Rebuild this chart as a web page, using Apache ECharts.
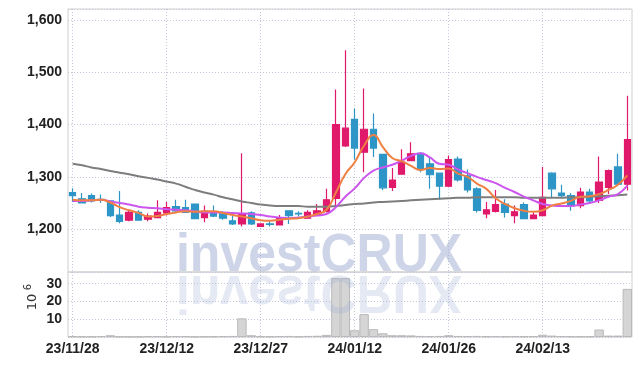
<!DOCTYPE html>
<html><head><meta charset="utf-8">
<script src="https://cdn.jsdelivr.net/npm/echarts@6/dist/echarts.min.js"></script>
<style>html,body{margin:0;padding:0;background:#fff}#c{width:642px;height:366px}</style>
</head><body><div id="c"></div>
<script>
const dates = ['23/11/28','23/11/29','23/11/30','23/12/01','23/12/04','23/12/05','23/12/06','23/12/07','23/12/08','23/12/11',
'23/12/12','23/12/13','23/12/14','23/12/15','23/12/18','23/12/19','23/12/20','23/12/21','23/12/22','23/12/26',
'23/12/27','23/12/28','24/01/02','24/01/03','24/01/04','24/01/05','24/01/08','24/01/09','24/01/10','24/01/11',
'24/01/12','24/01/15','24/01/16','24/01/17','24/01/18','24/01/19','24/01/22','24/01/23','24/01/24','24/01/25',
'24/01/26','24/01/29','24/01/30','24/01/31','24/02/01','24/02/02','24/02/05','24/02/06','24/02/07','24/02/08',
'24/02/13','24/02/14','24/02/15','24/02/16','24/02/19','24/02/20','24/02/21','24/02/22','24/02/23','24/02/26'];
const opens  = [1270,1258,1264,1257,1254,1227,1217,1232,1219,1222,1231,1243,1241,1248,1222,1230,1229,1216,1210,1231,
1205,1210,1208,1235,1230,1221,1227,1234,1259,1359,1410,1347,1391,1343,1280,1305,1331,1345,1325,1307,
1282,1334,1302,1277,1229,1234,1248,1226,1247,1220,1226,1307,1269,1264,1245,1271,1255,1280,1319,1286];
const closes = [1264,1250,1254,1255,1226,1215,1232,1217,1225,1232,1241,1235,1232,1220,1234,1225,1221,1210,1229,1210,
1210,1209,1222,1226,1229,1232,1235,1256,1400,1393,1355,1391,1355,1279,1294,1328,1344,1314,1304,1282,
1333,1294,1275,1236,1237,1247,1232,1233,1220,1227,1261,1277,1264,1245,1271,1254,1290,1312,1286,1371];
const lows   = [1252,1249,1251,1250,1223,1211,1215,1216,1215,1221,1226,1233,1231,1219,1213,1223,1218,1208,1205,1208,
1204,1205,1207,1210,1224,1220,1225,1232,1243,1357,1333,1309,1338,1275,1273,1304,1330,1309,1277,1256,
1280,1291,1270,1232,1221,1232,1222,1211,1219,1219,1225,1259,1261,1235,1240,1250,1250,1267,1285,1274];
const highs  = [1278,1269,1268,1266,1255,1273,1235,1236,1230,1255,1252,1256,1256,1249,1245,1245,1234,1226,1345,1234,
1211,1215,1227,1236,1234,1236,1248,1277,1467,1542,1430,1469,1421,1344,1317,1353,1366,1347,1338,1308,
1341,1339,1314,1280,1252,1275,1257,1245,1251,1232,1319,1309,1285,1269,1279,1277,1339,1314,1344,1455];
const maShort = [1256,1255,1255,1256,1251,1242,1236,1231,1224,1225,1229,1232,1234,1233,1234,1234,1231,1227,1224,1221,
1217,1216,1218,1220,1221,1224,1229,1237,1270,1305,1328,1360,1380,1357,1336,1330,1321,1313,1317,1315,
1316,1306,1300,1287,1277,1259,1248,1240,1235,1233,1236,1245,1249,1254,1262,1263,1267,1275,1285,1303];
const maMid = [1254,1254,1255,1256,1253,1250,1247,1243,1241,1240,1238,1237,1236,1234,1232,1232,1232,1231,1230,1229,
1227,1224,1222,1221,1222,1224,1226,1229,1242,1262,1278,1298,1312,1318,1323,1331,1340,1345,1337,1325,
1323,1314,1307,1300,1294,1288,1279,1271,1262,1255,1248,1245,1244,1244,1247,1250,1255,1262,1267,1283];
const maLong = [1325,1322,1318,1315,1311,1308,1305,1301,1298,1295,1291,1287,1281,1275,1270,1266,1261,1257,1253,1250,
1247,1245,1244,1244,1244,1243,1243,1243,1244,1246,1248,1249,1251,1252,1253,1254,1255,1256,1257,1258,
1259,1260,1260,1261,1261,1261,1261,1261,1260,1260,1260,1260,1260,1261,1261,1262,1263,1264,1265,1266];
const volumes = [0.4,0.3,0.3,0.5,1.0,0.3,0.2,0.2,0.4,0.5,0.2,0.5,0.5,0.2,0.3,0.4,0.5,0.6,10.5,1.0,
0.4,0.3,0.5,0.6,0.3,0.6,0.7,1.2,33.2,33.2,3.8,12.9,4.4,2.1,1.0,1.0,0.9,0.6,0.5,0.6,
1.0,0.6,0.5,0.6,0.4,0.5,0.4,0.5,0.4,0.5,1.3,0.8,0.5,0.4,0.3,0.4,4.2,0.8,0.8,27.1];

const candles = dates.map((d, i) => [opens[i], closes[i], lows[i], highs[i]]);
const FONT = '"Liberation Sans Narrow", "Liberation Sans", sans-serif';
const gridLine = {show: true, lineStyle: {type: [1, 2], color: '#c4c6dc', width: 1}};
const xSplit = {show: true, interval: 9, alignWithLabel: true, lineStyle: {type: [1, 2], color: '#c4c6dc', width: 1}};
const lbl = {fontFamily: FONT, fontWeight: 'bold', fontSize: 14, color: '#222'};

const chart = echarts.init(document.getElementById('c'), null, {renderer: 'canvas'});
chart.setOption({
  animation: false,
  backgroundColor: '#fff',
  grid: [
    {left: 68, right: 10, top: 9, height: 263, show: true, borderColor: '#cfcfcf', borderWidth: 1, backgroundColor: 'transparent'},
    {left: 68, right: 10, top: 272, height: 65, show: true, borderColor: '#cfcfcf', borderWidth: 1, backgroundColor: 'transparent'}
  ],
  xAxis: [
    {type: 'category', gridIndex: 0, data: dates, boundaryGap: true,
     axisLine: {show: false}, axisTick: {show: false, interval: 9, alignWithLabel: true},
     axisLabel: {show: false, interval: 9}, splitLine: xSplit},
    {type: 'category', gridIndex: 1, data: dates, boundaryGap: true,
     axisLine: {show: false}, axisTick: {show: false, interval: 9, alignWithLabel: true},
     axisLabel: Object.assign({show: true, interval: 9, margin: 5}, lbl), splitLine: xSplit}
  ],
  yAxis: [
    {type: 'value', gridIndex: 0, min: 1118, max: 1621, splitNumber: 5,
     axisLine: {show: false}, axisTick: {show: false},
     axisLabel: Object.assign({margin: 6, showMinLabel: false, showMaxLabel: false,
       formatter: v => v.toLocaleString('en-US')}, lbl),
     splitLine: gridLine},
    {type: 'value', gridIndex: 1, min: 0, max: 36.6, interval: 10,
     axisLine: {show: false}, axisTick: {show: false},
     axisLabel: Object.assign({margin: 6, showMinLabel: false, showMaxLabel: false}, lbl),
     splitLine: gridLine}
  ],
  series: [
    {type: 'bar', xAxisIndex: 1, yAxisIndex: 1, data: volumes, barWidth: '100%',
     itemStyle: {color: '#d5d5d5', borderColor: '#b9b9b9', borderWidth: 1}},
    {type: 'candlestick', xAxisIndex: 0, yAxisIndex: 0, data: candles, barWidth: 7,
     itemStyle: {color: '#e0196b', color0: '#2e96c7', borderColor: '#e0196b', borderColor0: '#2e96c7', borderWidth: 1.2}},
    {type: 'line', xAxisIndex: 0, yAxisIndex: 0, data: maLong, smooth: true, symbol: 'none',
     lineStyle: {color: '#7d7d7d', width: 2}},
    {type: 'line', xAxisIndex: 0, yAxisIndex: 0, data: maMid, smooth: true, symbol: 'none',
     lineStyle: {color: '#cc55ee', width: 2}},
    {type: 'line', xAxisIndex: 0, yAxisIndex: 0, data: maShort, smooth: true, symbol: 'none',
     lineStyle: {color: '#ee8043', width: 2}}
  ],
  graphic: [
    {type: 'text', x: 319, y: 256, scaleX: 0.926, silent: true, z: 100,
     style: {text: 'investCRUX', font: 'bold 54px "Liberation Sans", sans-serif', fill: 'rgba(160,172,210,0.5)', align: 'center', verticalAlign: 'middle'}},
    {type: 'text', x: 319, y: 291, scaleX: 0.926, scaleY: -1, silent: true, z: 100,
     style: {text: 'investCRUX', font: 'bold 54px "Liberation Sans", sans-serif', fill: 'rgba(160,172,210,0.27)', align: 'center', verticalAlign: 'middle'}},
    {type: 'text', x: 33, y: 302, rotation: Math.PI / 2, silent: true,
     style: {text: '10', font: '13px "DejaVu Sans", sans-serif', fill: '#333', align: 'center', verticalAlign: 'middle'}},
    {type: 'text', x: 28.5, y: 287, rotation: Math.PI / 2, silent: true,
     style: {text: '6', font: '10px "DejaVu Sans", sans-serif', fill: '#333', align: 'center', verticalAlign: 'middle'}}
  ]
});
</script></body></html>
